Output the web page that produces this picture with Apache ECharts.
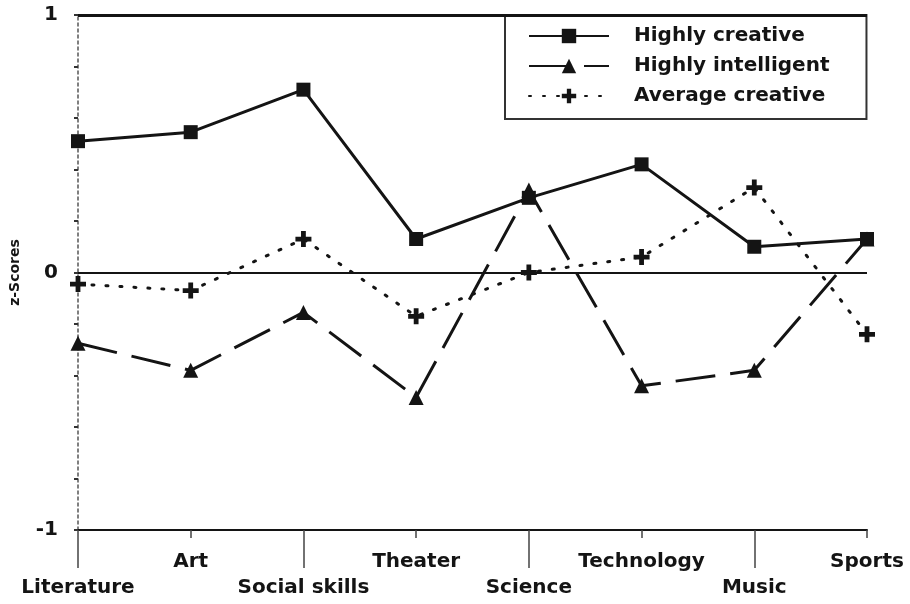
<!DOCTYPE html>
<html>
<head>
<meta charset="utf-8">
<script src="https://cdn.jsdelivr.net/npm/echarts@6/dist/echarts.min.js"></script>
<style>
  html, body { margin: 0; padding: 0; background: #fff; }
  #chart { width: 910px; height: 604px; }
</style>
</head>
<body>
<div id="chart"></div>
<script>
// Get dom in html
let zscore_chart_dom = document.getElementById("chart");
let zscore_chart = echarts.init(zscore_chart_dom);
//----------------------Data----------------------
let domains = ["Literature", "Art", "Social skills", "Theater", "Science", "Technology", "Music", "Sports"];
let highly_creative = [0.51, 0.545, 0.71, 0.13, 0.29, 0.42, 0.10, 0.13];
let highly_intelligent = [-0.275, -0.38, -0.155, -0.485, 0.32, -0.44, -0.38, 0.13];
let average_creative = [-0.045, -0.07, 0.13, -0.17, 0.0, 0.06, 0.33, -0.24];
let y_tick_labels = ["-1", "0", "1"];
//--------------------Styles----------------------
let ink = "#141414";
let font_name = "DejaVu Sans";
let plus_path = "path://M3.5,0 H6.5 V3.5 H10 V6.5 H6.5 V10 H3.5 V6.5 H0 V3.5 H3.5 Z";
//----------------------Axis----------------------
let zscore_xAxis = [
    {
        type: "category",
        data: domains,
        boundaryGap: false,
        position: "bottom",
        axisLine: {onZero: false, lineStyle: {color: ink, width: 2}},
        axisTick: {
            length: 38,
            interval: function (i) { return i % 2 === 0; },
            lineStyle: {color: "#444", width: 1.5}
        },
        axisLabel: {
            interval: function (i) { return i % 2 === 0; },
            margin: 48,
            color: ink,
            fontFamily: font_name,
            fontWeight: "bold",
            fontSize: 20
        }
    },
    {
        type: "category",
        data: domains,
        boundaryGap: false,
        position: "bottom",
        axisLine: {show: false, onZero: false},
        axisTick: {
            length: 8,
            interval: function (i) { return i % 2 === 1; },
            lineStyle: {color: "#444", width: 1.5}
        },
        axisLabel: {
            interval: function (i) { return i % 2 === 1; },
            margin: 22,
            color: ink,
            fontFamily: font_name,
            fontWeight: "bold",
            fontSize: 20
        }
    }
];
let zscore_yAxis = {
    type: "value",
    min: -1,
    max: 1,
    interval: 0.2,
    name: "z-Scores",
    nameLocation: "middle",
    nameGap: 56,
    nameRotate: 90,
    nameTextStyle: {color: ink, fontFamily: font_name, fontWeight: "bold", fontSize: 14},
    splitLine: {show: false},
    axisLine: {show: true, lineStyle: {color: "#555", width: 1.5, type: [3, 3]}},
    axisTick: {show: true, inside: false, length: 4, lineStyle: {color: "#333", width: 2}},
    axisLabel: {
        margin: 20,
        color: ink,
        fontFamily: font_name,
        fontWeight: "bold",
        fontSize: 20,
        formatter: function (v) {
            let s = String(Math.round(v * 10) / 10);
            return y_tick_labels.indexOf(s) >= 0 ? s : "";
        }
    }
};
//---------------------Series---------------------
let zscore_series = [
    {
        name: "Average creative",
        type: "line",
        data: average_creative,
        symbol: plus_path,
        symbolSize: 16,
        z: 2,
        lineStyle: {color: ink, width: 3, type: [2, 12], cap: "round"},
        itemStyle: {color: ink}
    },
    {
        name: "Highly intelligent",
        type: "line",
        data: highly_intelligent,
        symbol: "triangle",
        symbolSize: 15,
        z: 3,
        lineStyle: {color: ink, width: 3, type: [40, 15]},
        itemStyle: {color: ink}
    },
    {
        name: "Highly creative",
        type: "line",
        data: highly_creative,
        symbol: "rect",
        symbolSize: 14,
        z: 4,
        lineStyle: {color: ink, width: 3},
        itemStyle: {color: ink},
        markLine: {
            silent: true,
            symbol: "none",
            label: {show: false},
            lineStyle: {color: ink, type: "solid"},
            data: [
                {yAxis: 0, lineStyle: {width: 2}},
                {yAxis: 1, lineStyle: {width: 3}}
            ]
        }
    }
];
//------------------Generate Graph------------------
let zscore_option = {
    backgroundColor: "#fff",
    animation: false,
    grid: {left: 75, right: 43, top: 15, bottom: 74, containLabel: false},
    legend: {
        orient: "vertical",
        left: 505,
        top: 15,
        data: ["Highly creative", "Highly intelligent", "Average creative"],
        itemWidth: 80,
        itemHeight: 18,
        itemGap: 10,
        padding: [11, 37, 13, 23],
        borderColor: "#333",
        borderWidth: 2,
        textStyle: {color: ink, fontFamily: font_name, fontWeight: "bold", fontSize: 20, padding: [0, 0, 0, 20]}
    },
    xAxis: zscore_xAxis,
    yAxis: zscore_yAxis,
    series: zscore_series
};
if (zscore_option && typeof zscore_option === "object") {
    zscore_chart.setOption(zscore_option, true);
}
</script>
</body>
</html>
